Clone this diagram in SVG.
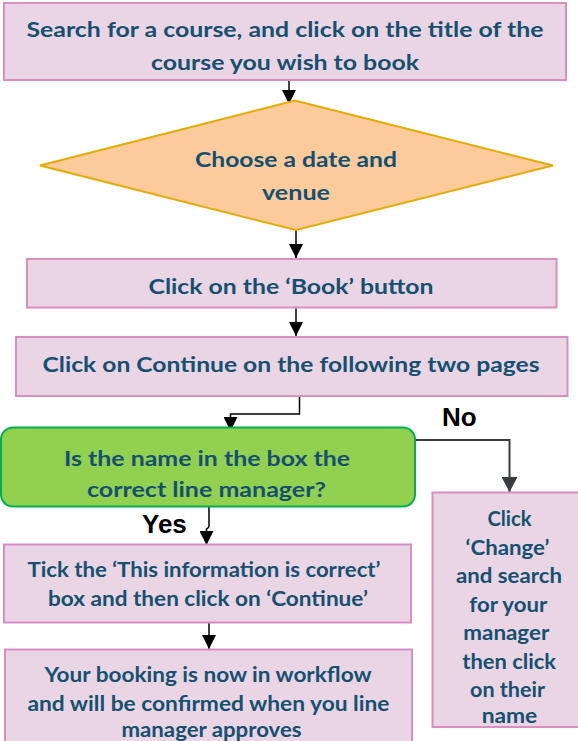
<svg xmlns="http://www.w3.org/2000/svg" width="578" height="741" viewBox="0 0 578 741">
<defs>
<style>
.box{fill:#E9D5E3;stroke:#D98EC0;stroke-width:2}
.dia{fill:#FCCB9B;stroke:#E4AA06;stroke-width:2}
.dec{fill:#92D050;stroke:#00B050;stroke-width:2}
.t{font-family:Lato,"Open Sans",sans-serif;font-weight:bold;font-size:21px;fill:#155071;text-anchor:middle}
.lbl{font-family:"Liberation Sans",Arial,sans-serif;font-weight:bold;font-size:26px;fill:#000}
.c{fill:none;stroke:#000;stroke-width:1.5}
.cg{fill:none;stroke:#3A3D40;stroke-width:2}
</style>
<marker id="ah" markerWidth="14" markerHeight="14" viewBox="0 0 14 14" refX="14" refY="7" orient="auto" markerUnits="userSpaceOnUse">
<path d="M0,0 L14,7 L0,14 Z" fill="#000"/>
</marker>
<marker id="ahg" markerWidth="16" markerHeight="16" viewBox="0 0 16 16" refX="15" refY="8" orient="auto" markerUnits="userSpaceOnUse">
<path d="M0,0 L15,8 L0,16 Z" fill="#3A3D40"/>
</marker>
</defs>
<rect width="578" height="741" fill="#fff"/>

<g id="connectors">
<path class="c" d="M289,80 V104" marker-end="url(#ah)"/>
<path class="c" d="M296,230 V258" marker-end="url(#ah)"/>
<path class="c" d="M296,308 V336" marker-end="url(#ah)"/>
<path class="c" d="M299.5,396 V414 H230.5 V431" marker-end="url(#ah)"/>
<path class="cg" d="M414,440 H509.5 V492" marker-end="url(#ahg)"/>
<path class="c" d="M209,507 V526 Q209,528 206.5,529 V545" marker-end="url(#ah)"/>
<path class="c" d="M209,623 V649" marker-end="url(#ah)"/>
<text class="lbl" x="442" y="426">No</text>
<text class="lbl" x="142" y="533">Yes</text>
</g>

<g id="search">
<rect class="box" x="4" y="3" width="562" height="77"/>
<text class="t" x="285" y="37" textLength="517" lengthAdjust="spacingAndGlyphs">Search for a course, and click on the title of the</text>
<text class="t" x="285" y="69.5" textLength="268" lengthAdjust="spacingAndGlyphs">course you wish to book</text>
</g>

<g id="choose">
<polygon class="dia" points="40,165.5 295,100.5 553,165.5 296,230"/>
<text class="t" x="296" y="167" textLength="202" lengthAdjust="spacingAndGlyphs">Choose a date and</text>
<text class="t" x="296" y="200" textLength="68" lengthAdjust="spacingAndGlyphs">venue</text>
</g>

<g id="book">
<rect class="box" x="27" y="259" width="529.5" height="48.5"/>
<text class="t" x="291" y="294" textLength="285" lengthAdjust="spacingAndGlyphs">Click on the ‘Book’ button</text>
</g>

<g id="continue">
<rect class="box" x="16" y="337" width="551.5" height="59"/>
<text class="t" x="291" y="371.5" textLength="497" lengthAdjust="spacingAndGlyphs">Click on Continue on the following two pages</text>
</g>

<g id="decision">
<rect class="dec" x="1" y="427.5" width="414" height="79" rx="12" ry="12"/>
<text class="t" x="207" y="465.5" textLength="286" lengthAdjust="spacingAndGlyphs">Is the name in the box the</text>
<text class="t" x="206.5" y="496.5" textLength="239" lengthAdjust="spacingAndGlyphs">correct line manager?</text>
</g>

<g id="tick">
<rect class="box" x="4" y="544.5" width="407" height="78"/>
<text class="t" x="204" y="576.5" textLength="353" lengthAdjust="spacingAndGlyphs">Tick the ‘This information is correct’</text>
<text class="t" x="208" y="606" textLength="320" lengthAdjust="spacingAndGlyphs">box and then click on ‘Continue’</text>
</g>

<g id="booking">
<rect class="box" x="5" y="649.5" width="407" height="100"/>
<text class="t" x="208" y="682" textLength="327" lengthAdjust="spacingAndGlyphs">Your booking is now in workflow</text>
<text class="t" x="208.5" y="710.5" textLength="362" lengthAdjust="spacingAndGlyphs">and will be confirmed when you line</text>
<text class="t" x="211.5" y="737" textLength="180" lengthAdjust="spacingAndGlyphs">manager approves</text>
</g>

<g id="change">
<rect class="box" x="432.5" y="492.5" width="160" height="234.5"/>
<text class="t" x="509.5" y="525.5" textLength="44" lengthAdjust="spacingAndGlyphs">Click</text>
<text class="t" x="507.5" y="554.5" textLength="84" lengthAdjust="spacingAndGlyphs">‘Change’</text>
<text class="t" x="509" y="583" textLength="106" lengthAdjust="spacingAndGlyphs">and search</text>
<text class="t" x="508.3" y="612" textLength="78" lengthAdjust="spacingAndGlyphs">for your</text>
<text class="t" x="506.3" y="640" textLength="86" lengthAdjust="spacingAndGlyphs">manager</text>
<text class="t" x="509.2" y="668.5" textLength="93.7" lengthAdjust="spacingAndGlyphs">then click</text>
<text class="t" x="507.5" y="696.5" textLength="75" lengthAdjust="spacingAndGlyphs">on their</text>
<text class="t" x="509.5" y="722.5" textLength="55.6" lengthAdjust="spacingAndGlyphs">name</text>
</g>
</svg>
